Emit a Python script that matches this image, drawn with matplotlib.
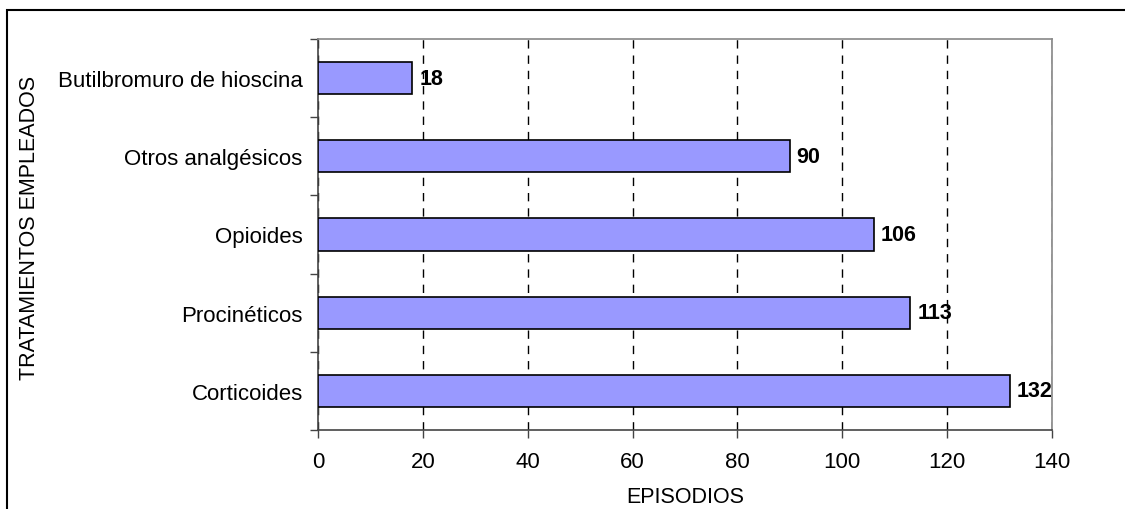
import matplotlib
matplotlib.use("Agg")
import matplotlib.pyplot as plt
from matplotlib.patches import Rectangle

categories = ["Corticoides", "Procinéticos", "Opioides", "Otros analgésicos", "Butilbromuro de hioscina"]
values = [132, 113, 106, 90, 18]
xticks = [0, 20, 40, 60, 80, 100, 120, 140]
xlabel = "EPISODIOS"
ylabel = "TRATAMIENTOS EMPLEADOS"

plt.rcParams['font.family'] = ['Liberation Sans', 'DejaVu Sans']

fig = plt.figure(figsize=(11.25, 5.1), dpi=100)
fig.patches.append(Rectangle((7/1125, -0.1), 1.2, 1 - 11/510 + 0.1, transform=fig.transFigure,
                             fill=False, edgecolor='black', linewidth=1.5))
ax = fig.add_axes([318/1125, 1 - 431/510, (1052 - 318)/1125, (431 - 40)/510])

y = list(range(len(categories)))
ax.barh(y, values, height=0.41, color='#9999FF', edgecolor='black', linewidth=1.2, zorder=3)
for yi, v in zip(y, values):
    ax.text(v + 1.3, yi, str(v), va='center', ha='left', fontsize=15.5, fontweight='bold', zorder=4)

ax.set_xlim(0, 140)
ax.set_ylim(-0.5, len(categories) - 0.5)
ax.set_xticks(xticks)
ax.set_xticklabels([str(t) for t in xticks], fontsize=16)
ax.set_yticks(y)
ax.set_yticklabels(categories, fontsize=16)
ax.set_yticks([i - 0.5 for i in range(len(categories) + 1)], minor=True)
ax.tick_params(axis='y', which='major', length=0, pad=11)
ax.tick_params(axis='y', which='minor', length=6, width=1, color='#444444')
ax.tick_params(axis='x', which='major', length=6, width=1, color='#444444', pad=9)

ax.xaxis.grid(True, linestyle=(0, (6, 5)), color='black', linewidth=1.0, zorder=0)
ax.set_axisbelow(True)

for s in ['left', 'bottom']:
    ax.spines[s].set_color('#444444')
    ax.spines[s].set_linewidth(1.2)
for s in ['top', 'right']:
    ax.spines[s].set_color('#888888')
    ax.spines[s].set_linewidth(1.2)

ax.set_xlabel(xlabel, fontsize=15.5, labelpad=10)
ax.set_ylabel(ylabel, fontsize=15.5)
ax.yaxis.set_label_coords(-(318 - 40)/734, 0.52)

fig.savefig("out.png", dpi=100)
